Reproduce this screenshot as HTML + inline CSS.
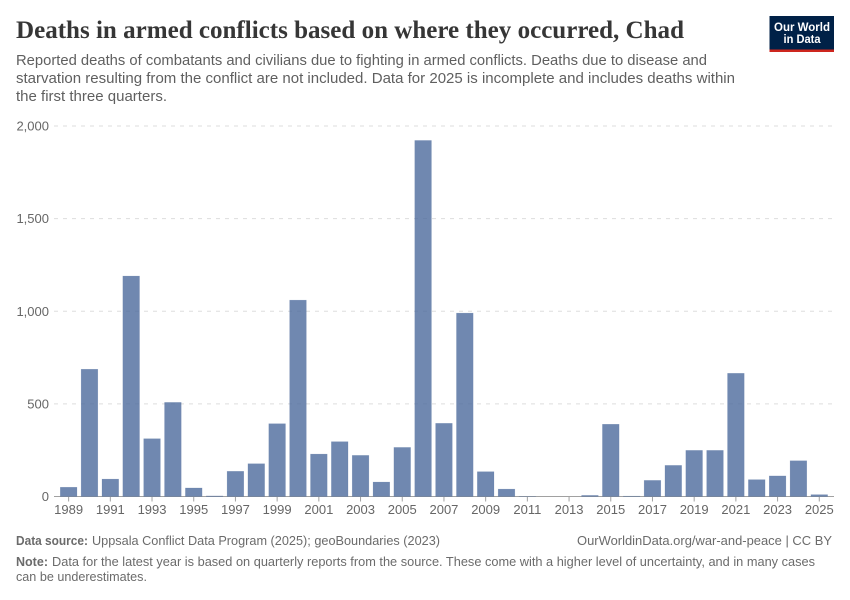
<!DOCTYPE html>
<html lang="en">
<head>
<meta charset="utf-8">
<title>Deaths in armed conflicts based on where they occurred, Chad</title>
<style>
  html, body { margin: 0; padding: 0; background: #fff; }
  svg { display: block; font-family: "Liberation Sans", sans-serif; }
  .title { font-family: "Liberation Serif", serif; font-weight: 700; font-size: 25px; fill: #363636; }
  .sub { font-size: 14.5px; fill: #5f5f5f; }
  .foot { font-size: 12.5px; fill: #6b6b6b; }
  .tick { font-size: 13px; fill: #666; }
</style>
</head>
<body>
<svg id="chart" width="850" height="600" viewBox="0 0 850 600" xmlns="http://www.w3.org/2000/svg">
  <rect x="0" y="0" width="850" height="600" fill="#fff"/>
  <text class="title" x="16" y="38" textLength="668" lengthAdjust="spacingAndGlyphs">Deaths in armed conflicts based on where they occurred, Chad</text>
  <text class="sub" x="16" y="65" textLength="691" lengthAdjust="spacingAndGlyphs">Reported deaths of combatants and civilians due to fighting in armed conflicts. Deaths due to disease and</text>
  <text class="sub" x="16" y="83" textLength="719" lengthAdjust="spacingAndGlyphs">starvation resulting from the conflict are not included. Data for 2025 is incomplete and includes deaths within</text>
  <text class="sub" x="16" y="101" textLength="151" lengthAdjust="spacingAndGlyphs">the first three quarters.</text>

  <g>
    <rect x="769.5" y="16" width="64.5" height="36" fill="#002147"/>
    <rect x="769.5" y="49.5" width="64.5" height="2.5" fill="#ce261e"/>
    <text x="802" y="31" text-anchor="middle" font-size="12" font-weight="700" fill="#fff" textLength="56" lengthAdjust="spacingAndGlyphs">Our World</text>
    <text x="802" y="43" text-anchor="middle" font-size="12" font-weight="700" fill="#fff" textLength="37" lengthAdjust="spacingAndGlyphs">in Data</text>
  </g>

  <g id="grid"></g>
  <g id="axes"></g>
  <g id="bars"></g>

  <text class="foot" x="16" y="545" font-weight="700" textLength="72" lengthAdjust="spacingAndGlyphs">Data source:</text>
  <text class="foot" x="92" y="545" textLength="348" lengthAdjust="spacingAndGlyphs">Uppsala Conflict Data Program (2025); geoBoundaries (2023)</text>
  <text class="foot" x="577" y="545" textLength="255" lengthAdjust="spacingAndGlyphs">OurWorldinData.org/war-and-peace | CC BY</text>
  <text class="foot" x="16" y="566" font-weight="700" textLength="32" lengthAdjust="spacingAndGlyphs">Note:</text>
  <text class="foot" x="52" y="566" textLength="763" lengthAdjust="spacingAndGlyphs">Data for the latest year is based on quarterly reports from the source. These come with a higher level of uncertainty, and in many cases</text>
  <text class="foot" x="16" y="581" textLength="131" lengthAdjust="spacingAndGlyphs">can be underestimates.</text>
</svg>
<script>
const years = [1989,1990,1991,1992,1993,1994,1995,1996,1997,1998,1999,2000,2001,2002,2003,2004,2005,2006,2007,2008,2009,2010,2011,2012,2013,2014,2015,2016,2017,2018,2019,2020,2021,2022,2023,2024,2025];
const deaths = [50,687,94,1190,312,508,46,3,136,177,393,1060,229,296,222,78,265,1922,395,990,134,40,1,0,0,6,390,2,87,168,249,249,665,91,111,193,10];
const yTicks = [0,500,1000,1500,2000];
const xTickYears = [1989,1991,1993,1995,1997,1999,2001,2003,2005,2007,2009,2011,2013,2015,2017,2019,2021,2023,2025];

const NS = 'http://www.w3.org/2000/svg';
const axisLeft = 54, axisRight = 834;
const barsLeft = 58.2, barsRight = 829.7;
const plotBottom = 496.5, plotTop = 126, yMax = 2000;
const band = (barsRight - barsLeft) / years.length;
const barWidth = band * 0.8;
function xCenter(year) { return barsLeft + band * (years.indexOf(year) + 0.5); }
function yPos(value) { return plotBottom - (value / yMax) * (plotBottom - plotTop); }
function make(tag, attrs, parent) {
  const el = document.createElementNS(NS, tag);
  for (const k in attrs) el.setAttribute(k, attrs[k]);
  parent.appendChild(el);
  return el;
}
const gridG = document.getElementById('grid');
const barsG = document.getElementById('bars');
const axesG = document.getElementById('axes');

yTicks.forEach(function (t) {
  const y = yPos(t);
  if (t !== 0) {
    const line = make('line', {x1: axisLeft, x2: axisRight, y1: y, y2: y, stroke: '#dddddd', 'stroke-dasharray': '4 5', 'stroke-width': 1}, gridG);
    
    
  }
  const label = make('text', {x: 49, y: y + 4.5, 'text-anchor': 'end', class: 'tick'}, axesG);
  label.textContent = t.toLocaleString('en-US');
  
  
});

const axisLine = make('line', {x1: axisLeft, x2: axisRight, y1: plotBottom, y2: plotBottom, stroke: '#a1a1a1', 'stroke-width': 1}, axesG);



xTickYears.forEach(function (year) {
  const x = xCenter(year);
  const tick = make('line', {x1: x, x2: x, y1: plotBottom, y2: plotBottom + 5, stroke: '#a1a1a1', 'stroke-width': 1}, axesG);
  
  
  const label = make('text', {x: x, y: 514, 'text-anchor': 'middle', class: 'tick'}, axesG);
  label.textContent = String(year);
  
  
});

years.forEach(function (year, i) {
  const v = deaths[i];
  const top = yPos(v);
  const bar = make('rect', {x: xCenter(year) - barWidth / 2, y: top, width: barWidth, height: plotBottom - top, fill: '#4c6a9c', 'fill-opacity': 0.8, stroke: '#4c6a9c', 'stroke-opacity': 0.3, 'stroke-width': 0.5}, barsG);
  
  
});
</script>
</body>
</html>
